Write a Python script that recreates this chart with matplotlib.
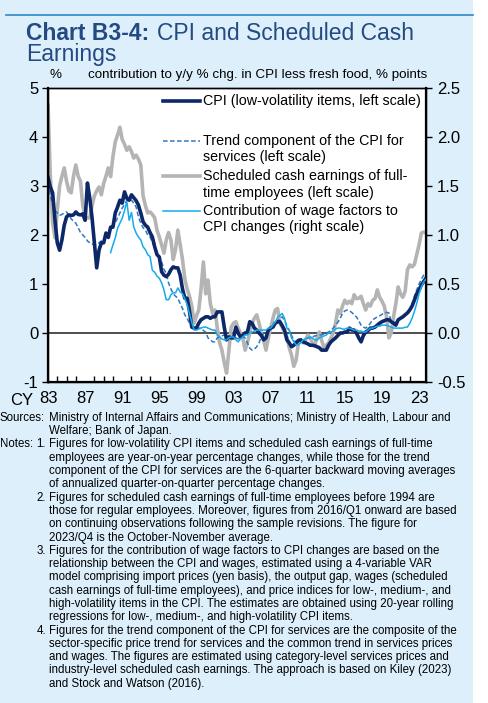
import numpy as np
import matplotlib
matplotlib.use("Agg")
import matplotlib.pyplot as plt
from matplotlib.lines import Line2D
from matplotlib.patches import Rectangle

plt.rcParams['font.family'] = ['Liberation Sans', 'DejaVu Sans']

# quarterly data, 1983/Q1 - 2023/Q4 (one row per year)
start_year = 1983
cpi_low_vol = [
    3.18, 2.98, 2.86, 2.31,  1.84, 1.69, 1.90, 2.20,  2.37, 2.41, 2.40, 2.41,
    2.47, 2.42, 2.41, 2.43,  2.30, 3.06, 2.76, 2.35,  1.84, 1.33, 1.69, 1.84,
    1.84, 2.04, 1.95, 2.16,  2.16, 2.45, 2.57, 2.71,  2.65, 2.88, 2.75, 2.71,
    2.82, 2.76, 2.70, 2.61,  2.45, 2.27, 2.20, 2.16,  2.05, 1.96, 1.76, 1.60,
    1.55, 1.25, 1.18, 1.15,  1.20, 1.29, 1.35, 1.33,  1.33, 1.18, 0.90, 0.71,
    0.71, 0.45, 0.12, 0.10,  0.10, 0.20, 0.27, 0.30,  0.33, 0.33, 0.30, 0.33,
    0.33, 0.43, 0.43, 0.43,  0.12, -0.14, -0.08, -0.10,  -0.10, 0.12, 0.00, -0.08,
    -0.05, 0.00, 0.02, 0.23,  0.20, 0.10, 0.06, 0.00,  -0.05, -0.14, -0.10, 0.06,
    0.10, 0.12, 0.20, 0.23,  0.23, 0.15, 0.06, -0.14,  -0.20, -0.28, -0.25, -0.20,
    -0.15, -0.14, -0.18, -0.20,  -0.22, -0.25, -0.25, -0.26,  -0.28, -0.30, -0.35, -0.35,
    -0.35, -0.25, -0.18, -0.14,  -0.10, -0.05, 0.00, 0.00,  0.02, 0.02, 0.10, 0.06,
    0.06, 0.00, -0.10, -0.18,  -0.05, 0.02, 0.05, 0.10,  0.10, 0.12, 0.16, 0.20,
    0.23, 0.25, 0.27, 0.27,  0.23, 0.20, 0.16, 0.27,  0.30, 0.33, 0.37, 0.41,
    0.47, 0.55, 0.67, 0.80,  0.88, 0.98, 1.05, 1.12,
]
trend_services = [
    3.06, 2.80, 2.61, 2.50,  2.45, 2.40, 2.42, 2.45,  2.47, 2.40, 2.33, 2.28,
    2.24, 2.15, 2.05, 2.00,  1.95, 1.88, 1.84, 1.82,  1.80, 1.80, 1.84, 1.88,
    1.92, 1.96, 2.05, 2.10,  2.16, 2.25, 2.35, 2.45,  2.55, 2.62, 2.71, 2.71,
    2.71, 2.65, 2.57, 2.37,  2.24, 2.15, 2.10, 2.00,  1.96, 1.85, 1.76, 1.65,
    1.55, 1.45, 1.30, 1.22,  1.02, 0.90, 0.80, 0.75,  0.71, 0.60, 0.50, 0.37,
    0.30, 0.20, 0.16, 0.10,  0.10, 0.10, 0.10, 0.05,  0.02, -0.10, -0.14, -0.18,
    -0.18, -0.10, -0.08, -0.06,  -0.04, -0.05, -0.08, -0.10,  -0.10, -0.10, -0.12, -0.10,
    -0.08, -0.10, -0.20, -0.31,  -0.35, -0.33, -0.28, -0.20,  -0.08, 0.00, 0.02, 0.06,
    0.10, 0.12, 0.18, 0.23,  0.31, 0.33, 0.25, 0.15,  0.06, -0.05, -0.14, -0.20,
    -0.20, -0.18, -0.15, -0.12,  -0.10, -0.10, -0.08, -0.06,  -0.05, -0.04, -0.04, -0.02,
    0.00, 0.02, 0.06, 0.10,  0.16, 0.22, 0.30, 0.40,  0.45, 0.47, 0.45, 0.42,
    0.37, 0.33, 0.25, 0.16,  0.12, 0.10, 0.14, 0.20,  0.27, 0.30, 0.33, 0.35,
    0.38, 0.41, 0.42, 0.41,  0.23, 0.20, 0.22, 0.25,  0.31, 0.34, 0.37, 0.42,
    0.47, 0.60, 0.75, 0.88,  1.00, 1.10, 1.18, 1.24,
]
sched_earnings = [
    4.65, 3.20, 2.25, 1.94,  2.50, 3.00, 3.20, 3.37,  3.10, 2.90, 2.86, 3.20,
    3.43, 3.20, 3.10, 2.60,  2.37, 2.35, 2.35, 2.60,  2.80, 2.90, 2.98, 2.82,
    3.05, 3.20, 3.37, 3.19,  3.60, 3.90, 4.04, 4.20,  3.95, 3.85, 3.73, 3.80,
    3.70, 3.57, 3.63, 3.55,  3.43, 2.80, 2.60, 2.45,  2.47, 2.42, 2.35, 2.10,
    1.96, 1.80, 1.63, 1.90,  2.05, 1.90, 1.50, 1.70,  2.10, 1.80, 1.50, 1.10,
    0.90, 0.75, 0.55, 0.20,  0.35, 0.47, 0.90, 1.45,  0.80, 1.08, 0.60, 0.40,
    0.47, 0.10, -0.20, -0.35,  -0.60, -0.82, -0.35, 0.12,  0.20, 0.23, 0.10, 0.00,
    -0.10, -0.35, -0.20, 0.00,  0.20, 0.30, 0.37, 0.20,  0.00, -0.15, -0.35, -0.10,
    0.10, 0.30, 0.47, 0.50,  0.20, 0.12, 0.00, -0.08,  -0.30, -0.45, -0.68, -0.55,
    -0.20, -0.14, -0.20, -0.15,  -0.04, -0.10, -0.20, -0.25,  -0.10, 0.02, -0.15, -0.30,
    -0.25, -0.20, -0.10, 0.00,  0.20, 0.47, 0.40, 0.55,  0.67, 0.60, 0.65, 0.60,
    0.78, 0.70, 0.71, 0.75,  0.60, 0.47, 0.60, 0.55,  0.67, 0.70, 0.88, 0.73,
    0.65, 0.55, 0.33, -0.10,  0.00, 0.33, 0.60, 0.94,  0.80, 0.73, 0.85, 1.29,
    1.39, 1.35, 1.40, 1.60,  1.80, 2.04, 2.06, 2.04,
]
# right scale, starts 1989/Q4
wage_contrib = [np.nan] * 27 + [
    0.82,  0.90, 0.97, 1.07, 1.12,  1.17, 1.25, 1.34, 1.15,  1.23, 1.08, 1.02, 0.98,
    0.95, 0.88, 0.85, 0.80,  0.78, 0.64, 0.62, 0.58,  0.56, 0.51, 0.44, 0.34,
    0.34, 0.39, 0.41, 0.41,  0.46, 0.42, 0.40, 0.35,  0.29, 0.20, 0.11, 0.03,
    0.03, 0.04, 0.05, 0.06,  0.06, 0.05, 0.04, 0.03,  0.03, -0.02, -0.04, -0.06,
    -0.07, -0.07, -0.05, -0.04,  -0.04, -0.07, -0.09, -0.06,  -0.04, -0.02, -0.02, 0.00,
    0.01, 0.02, 0.03, 0.03,  0.03, 0.03, 0.03, 0.05,  0.05, 0.08, 0.11, 0.16,
    0.18, 0.20, 0.15, 0.05,  0.03, -0.05, -0.09, -0.12,  -0.12, -0.10, -0.07, -0.06,
    -0.05, -0.04, -0.05, -0.07,  -0.07, -0.05, -0.04, -0.03,  -0.02, 0.00, 0.01, 0.02,
    0.04, 0.05, 0.05, 0.04,  0.04, 0.05, 0.05, 0.04,  0.03, 0.03, 0.02, 0.02,
    0.01, 0.01, 0.03, 0.05,  0.05, 0.06, 0.07, 0.07,  0.08, 0.08, 0.08, 0.07,
    0.06, 0.05, 0.05, 0.05,  0.05, 0.05, 0.06, 0.06,  0.10, 0.15, 0.22, 0.30,
    0.40, 0.47, 0.52, 0.55,
]
tick_years = [1983, 1987, 1991, 1995, 1999, 2003, 2007, 2011, 2015, 2019, 2023]
tick_labels = ['83', '87', '91', '95', '99', '03', '07', '11', '15', '19', '23']
left_ticks = [-1, 0, 1, 2, 3, 4, 5]
right_ticks = [-0.5, 0.0, 0.5, 1.0, 1.5, 2.0, 2.5]

legend_labels = [
    ['CPI (low-volatility items, left scale)'],
    ['Trend component of the CPI for', 'services (left scale)'],
    ['Scheduled cash earnings of full-', 'time employees (left scale)'],
    ['Contribution of wage factors to', 'CPI changes (right scale)'],
]

c_navy = '#0C2869'
c_dash = '#2E78C2'
c_gray = '#B4B4B4'
c_light = '#14AAEE'
c_title = '#234A82'
c_bg = '#DDEFFB'

W, H = 488, 703
x = start_year + np.arange(len(cpi_low_vol)) / 4.0


def fx(px):
    return px / W


def fy(py):
    return 1 - py / H


fig = plt.figure(figsize=(W / 100, H / 100), dpi=100, facecolor='white')
fig.add_artist(Rectangle((0, 0), fx(473), 1, transform=fig.transFigure,
                         facecolor=c_bg, edgecolor='none', zorder=-10))
fig.add_artist(Line2D([fx(6), fx(473)], [fy(15), fy(15)], color='#2E86C8', lw=1.2))

# title
fig.text(fx(26), fy(33), 'Chart B3-4:', fontsize=16.5, fontweight='bold',
         color=c_title, va='center')
fig.text(fx(157), fy(33), 'CPI and Scheduled Cash', fontsize=16.5,
         color=c_title, va='center')
fig.text(fx(26), fy(54), 'Earnings', fontsize=16.5, color=c_title, va='center')

ax = fig.add_axes([fx(48), fy(382), fx(426) - fx(48), fy(88) - fy(382)])
ax.set_facecolor('white')
ax.plot(x, sched_earnings, color=c_gray, lw=2.6, zorder=2)
ax2 = ax.twinx()
ax2.plot(x, wage_contrib, color=c_light, lw=1.1, zorder=3)
ax.plot(x, trend_services, color=c_dash, lw=1.1, ls=(0, (3, 1.6)), zorder=4)
ax.plot(x, cpi_low_vol, color=c_navy, lw=2.6, zorder=5)
ax.axhline(0, color='#404040', lw=1.3, zorder=1)

ax.set_xlim(x[0], x[-1])
ax.set_ylim(-1, 5)
ax2.set_ylim(-0.5, 2.5)
ax.set_yticks(left_ticks)
ax.set_yticklabels([str(v) for v in left_ticks])
ax2.set_yticks(right_ticks)
ax2.set_yticklabels(['%.1f' % v for v in right_ticks])
ax.set_xticks(tick_years)
ax.set_xticklabels(tick_labels)
ax.set_xticks(range(1984, 2024), minor=True)
ax.tick_params(axis='x', which='both', direction='in', length=4, width=1,
               labelsize=12, pad=6.5, bottom=True, top=False)
ax.tick_params(axis='x', which='major', length=0)
ax.tick_params(axis='y', direction='out', length=4, width=1, labelsize=12, pad=3)
ax2.tick_params(axis='y', direction='out', length=4, width=1, labelsize=12, pad=4)
for a in (ax, ax2):
    for s in a.spines.values():
        s.set_color('black')
        s.set_linewidth(1.0)
ax.spines['left'].set_linewidth(1.6)
ax.spines['bottom'].set_linewidth(1.6)
ax2.spines['right'].set_linewidth(1.6)
ax2.patch.set_visible(False)

fig.text(fx(33), fy(400.5), 'CY', fontsize=12, ha='right', va='center')
fig.text(fx(55), fy(75), '%', fontsize=9.6, ha='center', va='center')
fig.text(fx(88), fy(75), 'contribution to y/y % chg. in CPI less fresh food, % points',
         fontsize=9.6, ha='left', va='center')

# legend
leg_y = [101, 141, 176, 211]
leg_style = [(c_navy, 2.6, '-'), (c_dash, 1.1, (0, (3, 1.6))),
             (c_gray, 2.6, '-'), (c_light, 1.1, '-')]
for yy, (col, lw, ls), lines in zip(leg_y, leg_style, legend_labels):
    fig.add_artist(Line2D([fx(163), fx(200)], [fy(yy), fy(yy)], color=col, lw=lw, ls=ls))
    for k, line in enumerate(lines):
        fig.text(fx(203), fy(yy + 16.5 * k), line, fontsize=10.3, va='center')

# sources and notes
fs = 8.3
pitch = 13.3
y0 = 417.8
notes = [
    ('Sources:', None, 'Ministry of Internal Affairs and Communications; Ministry of Health, Labour and'),
    (None, None, 'Welfare; Bank of Japan.'),
    ('Notes:', '1.', 'Figures for low-volatility CPI items and scheduled cash earnings of full-time'),
    (None, None, 'employees are year-on-year percentage changes, while those for the trend'),
    (None, None, 'component of the CPI for services are the 6-quarter backward moving averages'),
    (None, None, 'of annualized quarter-on-quarter percentage changes.'),
    (None, '2.', 'Figures for scheduled cash earnings of full-time employees before 1994 are'),
    (None, None, 'those for regular employees. Moreover, figures from 2016/Q1 onward are based'),
    (None, None, 'on continuing observations following the sample revisions. The figure for'),
    (None, None, '2023/Q4 is the October-November average.'),
    (None, '3.', 'Figures for the contribution of wage factors to CPI changes are based on the'),
    (None, None, 'relationship between the CPI and wages, estimated using a 4-variable VAR'),
    (None, None, 'model comprising import prices (yen basis), the output gap, wages (scheduled'),
    (None, None, 'cash earnings of full-time employees), and price indices for low-, medium-, and'),
    (None, None, 'high-volatility items in the CPI. The estimates are obtained using 20-year rolling'),
    (None, None, 'regressions for low-, medium-, and high-volatility CPI items.'),
    (None, '4.', 'Figures for the trend component of the CPI for services are the composite of the'),
    (None, None, 'sector-specific price trend for services and the common trend in services prices'),
    (None, None, 'and wages. The figures are estimated using category-level services prices and'),
    (None, None, 'industry-level scheduled cash earnings. The approach is based on Kiley (2023)'),
    (None, None, 'and Stock and Watson (2016).'),
]
for i, (head, num, body) in enumerate(notes):
    yy = fy(y0 + pitch * i)
    if head:
        fig.text(fx(0), yy, head, fontsize=fs, va='center')
    if num:
        fig.text(fx(36.5), yy, num, fontsize=fs, va='center')
    fig.text(fx(49), yy, body, fontsize=fs, va='center')

fig.savefig('out.png', dpi=100, facecolor='white')
